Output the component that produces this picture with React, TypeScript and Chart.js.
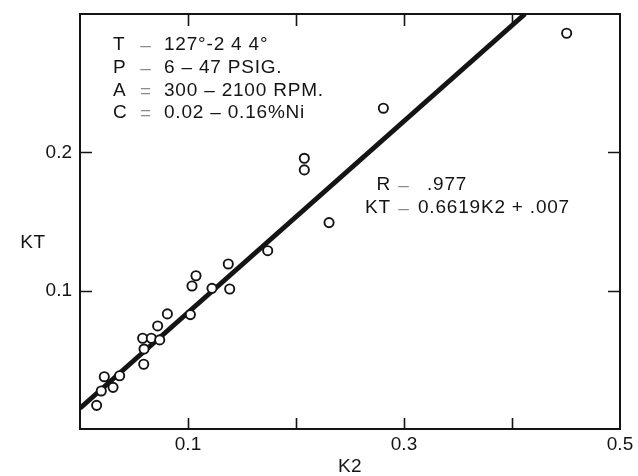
import React, { useEffect, useRef } from 'react';
import { Chart, registerables } from 'chart.js';

Chart.register(...registerables);

// Measured points (K2, KT)
const k2Values = [0.4506, 0.2809, 0.2077, 0.2077, 0.2306, 0.1738, 0.1373, 0.1074, 0.1037, 0.1222, 0.1386, 0.0809, 0.1022, 0.0719, 0.058, 0.066, 0.0738, 0.0593, 0.059, 0.0225, 0.0367, 0.0197, 0.0306, 0.0154];
const ktValues = [0.2861, 0.2319, 0.1957, 0.1873, 0.1492, 0.1289, 0.1193, 0.1108, 0.1034, 0.1017, 0.1012, 0.0832, 0.0827, 0.0745, 0.0656, 0.0656, 0.0644, 0.0578, 0.0468, 0.0378, 0.0385, 0.0275, 0.0301, 0.0171];

// Regression line as drawn (end points)
const fitK2 = [0, 0.412];
const fitKT = [0.015, 0.3];

// Axis ticks
const xTickLabels = ['0.1', '0.3', '0.5'];
const yTickLabels = ['0.1', '0.2'];
const xTitle = 'K2';
const yTitle = 'KT';

// Annotation texts
const conditionLabels = ['T', 'P', 'A', 'C'];
const conditionSigns = ['–', '–', '=', '='];
const conditionValues = ['127°-2 4 4°', '6 – 47 PSIG.', '300 – 2100 RPM.', '0.02 – 0.16%Ni'];
const fitLabels = ['R', 'KT'];
const fitSigns = ['–', '–'];
const fitValues = ['.977', '0.6619K2 + .007'];

const FONT = '"Liberation Sans", Arial, Helvetica, sans-serif';
const INK = '#141414';

const overlay = {
  id: 'overlay',
  afterDatasetsDraw(chart: any) {
    const { ctx, chartArea } = chart;
    const { left, right, top, bottom } = chartArea;
    const xs = chart.scales.x;
    const ys = chart.scales.y;
    ctx.save();
    ctx.strokeStyle = INK;
    ctx.lineWidth = 2;
    ctx.strokeRect(left, top, right - left, bottom - top);
    ctx.lineWidth = 1.6;
    xs.ticks.forEach((t: any) => {
      if (t.value <= xs.min + 1e-9 || t.value >= xs.max - 1e-9) return;
      const px = Math.round(xs.getPixelForValue(t.value)) + 0.5;
      ctx.beginPath();
      ctx.moveTo(px, bottom);
      ctx.lineTo(px, bottom - 11);
      ctx.moveTo(px, top);
      ctx.lineTo(px, top + 12);
      ctx.stroke();
    });
    ys.ticks.forEach((t: any) => {
      if (t.value <= ys.min + 1e-9 || t.value >= ys.max - 1e-9) return;
      const py = Math.round(ys.getPixelForValue(t.value)) + 0.5;
      ctx.beginPath();
      ctx.moveTo(left, py);
      ctx.lineTo(left + 12, py);
      ctx.moveTo(right, py);
      ctx.lineTo(right - 12, py);
      ctx.stroke();
    });

    ctx.font = `19px ${FONT}`;
    ctx.textBaseline = 'middle';
    (ctx as any).letterSpacing = '0.8px';
    // conditions block
    conditionLabels.forEach((lab, i) => {
      const y = top + 31 + i * 22.7;
      ctx.fillStyle = INK;
      ctx.textAlign = 'left';
      ctx.fillText(lab, left + 33, y);
      ctx.fillStyle = '#8a8a8a';
      ctx.textAlign = 'center';
      ctx.fillText(conditionSigns[i], left + 66, y + 1);
      ctx.fillStyle = INK;
      ctx.textAlign = 'left';
      ctx.fillText(conditionValues[i], left + 84, y);
    });
    // regression block
    const fitValueX = [427, 418];
    fitLabels.forEach((lab, i) => {
      const y = 185 + i * 23;
      ctx.fillStyle = INK;
      ctx.textAlign = 'right';
      ctx.fillText(lab, 391, y);
      ctx.fillStyle = '#8a8a8a';
      ctx.textAlign = 'center';
      ctx.fillText(fitSigns[i], 404, y + 1);
      ctx.fillStyle = INK;
      ctx.textAlign = 'left';
      ctx.fillText(fitValues[i], fitValueX[i], y);
    });
    // axis titles
    (ctx as any).letterSpacing = '0.5px';
    ctx.textAlign = 'center';
    ctx.fillText(xTitle, (left + right) / 2, 467);
    ctx.fillText(yTitle, 33, 243);
    ctx.restore();
  },
};

export default function App() {
  const ref = useRef<HTMLCanvasElement | null>(null);
  useEffect(() => {
    if (!ref.current) return;
    const chart = new Chart(ref.current, {
      type: 'scatter',
      data: {
        datasets: [
          {
            label: 'data',
            data: k2Values.map((x, i) => ({ x, y: ktValues[i] })),
            pointRadius: 4.6,
            pointBorderWidth: 1.9,
            pointBackgroundColor: '#ffffff',
            pointBorderColor: INK,
            showLine: false,
          },
          {
            label: 'fit',
            type: 'line',
            data: fitK2.map((x, i) => ({ x, y: fitKT[i] })),
            borderColor: INK,
            borderWidth: 5,
            pointRadius: 0,
            showLine: true,
            fill: false,
          } as any,
        ],
      },
      options: {
        animation: false,
        responsive: false,
        layout: { padding: { left: 8, right: 18, top: 14, bottom: 0 } },
        plugins: { legend: { display: false }, tooltip: { enabled: false } },
        scales: {
          x: {
            type: 'linear',
            min: 0,
            max: 0.5,
            grid: { display: false, drawTicks: false },
            border: { display: false },
            afterFit: (s: any) => { s.height = 47; s.paddingLeft = 0; s.paddingRight = 0; },
            ticks: {
              stepSize: 0.1,
              autoSkip: false,
              maxRotation: 0,
              padding: 4,
              color: INK,
              font: { family: FONT, size: 19 },
              callback: (v: any) => {
                const s = Number(v).toFixed(1);
                return xTickLabels.includes(s) ? s : '';
              },
            },
          },
          y: {
            type: 'linear',
            min: 0,
            max: 0.3,
            grid: { display: false, drawTicks: false },
            border: { display: false },
            afterFit: (s: any) => { s.width = 72; s.paddingTop = 0; s.paddingBottom = 0; },
            ticks: {
              stepSize: 0.1,
              autoSkip: false,
              padding: 8,
              color: INK,
              font: { family: FONT, size: 19 },
              callback: (v: any) => {
                const s = Number(v).toFixed(1);
                return yTickLabels.includes(s) ? s : '';
              },
            },
          },
        },
      },
      plugins: [overlay],
    });
    return () => chart.destroy();
  }, []);
  return (
    <div style={{ position: 'absolute', left: 0, top: 0, width: 638, height: 476, background: '#fff' }}>
      <canvas ref={ref} width={638} height={476} style={{ display: 'block' }} />
    </div>
  );
}
